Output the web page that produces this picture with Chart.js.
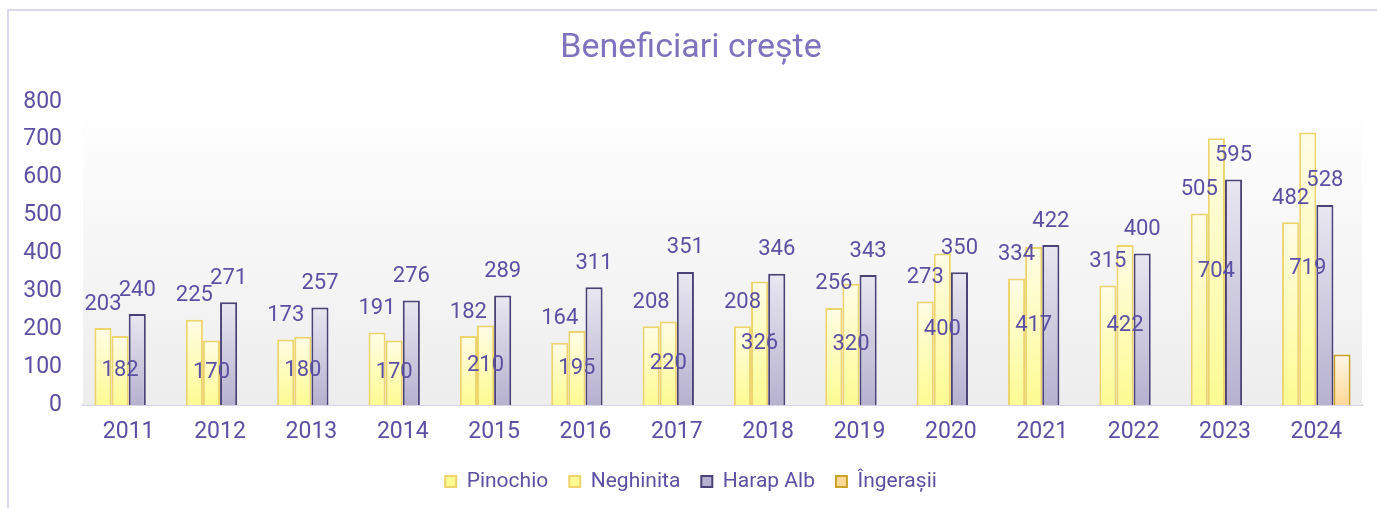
<!DOCTYPE html>
<html>
<head>
<meta charset="utf-8">
<script src="https://cdn.jsdelivr.net/npm/chart.js@4"></script>
<style>
  body { margin: 0; background: #fff; overflow: hidden; }
  #frame { position: absolute; left: 7px; top: 9px; width: 2000px; height: 1000px;
           border-left: 2px solid #dcd8ec; border-top: 2px solid #dcd8ec; }
  #wrap { position: absolute; left: 0; top: 0; width: 1377px; height: 508px; }
</style>
</head>
<body>
<div id="frame"></div>
<div id="wrap"><canvas id="chart"></canvas></div>
<script>
// Data
const years = ['2011', '2012', '2013', '2014', '2015', '2016', '2017', '2018', '2019', '2020', '2021', '2022', '2023', '2024'];
const pinochio = [203, 225, 173, 191, 182, 164, 208, 208, 256, 273, 334, 315, 505, 482];
const neghinita = [182, 170, 180, 170, 210, 195, 220, 326, 320, 400, 417, 422, 704, 719];
const harapAlb = [240, 271, 257, 276, 289, 311, 351, 346, 343, 350, 422, 400, 595, 528];
const ingerasii = [null, null, null, null, null, null, null, null, null, null, null, null, null, 133];
const yTicks = [0, 100, 200, 300, 400, 500, 600, 700, 800];

const textColor = '#5b50a3';
const fontFamily = 'Roboto, "Liberation Sans", sans-serif';

// vertical gradient for each bar, lighter at the top
function barFill(top, bottom) {
  return (ctx) => {
    const chart = ctx.chart;
    if (ctx.type !== 'data' || !chart.chartArea || ctx.raw == null) return bottom;
    const y = chart.scales.y;
    const g = chart.ctx.createLinearGradient(0, y.getPixelForValue(ctx.raw), 0, y.getPixelForValue(0));
    g.addColorStop(0, top);
    g.addColorStop(1, bottom);
    return g;
  };
}

// light grey backdrop behind the plot
const plotBackground = {
  id: 'plotBackground',
  beforeDatasetsDraw(chart) {
    const { ctx, chartArea: a } = chart;
    const g = ctx.createLinearGradient(0, a.top, 0, a.bottom);
    g.addColorStop(0, '#ffffff');
    g.addColorStop(1, '#ededed');
    ctx.save();
    ctx.fillStyle = g;
    ctx.fillRect(a.left, a.top, a.right - a.left, a.bottom - a.top);
    ctx.restore();
  }
};

// value labels: above the bar for Pinochio and Harap Alb, in the middle for Neghinita
const valueLabels = {
  id: 'valueLabels',
  afterDatasetsDraw(chart) {
    const { ctx } = chart;
    ctx.save();
    ctx.font = '22px ' + fontFamily;
    ctx.fillStyle = textColor;
    ctx.textAlign = 'center';
    ctx.textBaseline = 'middle';
    [0, 1, 2].forEach((di) => {
      const meta = chart.getDatasetMeta(di);
      const data = chart.data.datasets[di].data;
      meta.data.forEach((bar, i) => {
        if (data[i] == null) return;
        const y = di === 1 ? (bar.y + bar.base) / 2 : bar.y - 24;
        ctx.fillText(String(data[i]), bar.x, y);
      });
    });
    ctx.restore();
  }
};

new Chart(document.getElementById('chart').getContext('2d'), {
  type: 'bar',
  data: {
    labels: years,
    datasets: [
      { label: 'Pinochio', data: pinochio, backgroundColor: barFill('#fffde6', '#fdfb92'), borderColor: '#eed46c', borderWidth: 2 },
      { label: 'Neghinita', data: neghinita, backgroundColor: barFill('#fffde6', '#fdfb92'), borderColor: '#eed46c', borderWidth: 2 },
      { label: 'Harap Alb', data: harapAlb, backgroundColor: barFill('#e9e7f1', '#b6b1cf'), borderColor: '#4b4377', borderWidth: 2 },
      { label: 'Îngerașii', data: ingerasii, backgroundColor: barFill('#fff7e8', '#ffd897'), borderColor: '#c9a227', borderWidth: 2 }
    ]
  },
  options: {
    responsive: true,
    maintainAspectRatio: false,
    animation: false,
    layout: { padding: { left: 20, right: 15, top: 0, bottom: 6 } },
    datasets: { bar: { categoryPercentage: 0.75, barPercentage: 1.0 } },
    plugins: {
      title: {
        display: true,
        text: 'Beneficiari crește',
        color: '#7f73bf',
        font: { family: fontFamily, size: 34, weight: 'normal' },
        padding: { top: 28, bottom: 33 }
      },
      legend: {
        position: 'bottom',
        labels: {
          color: textColor,
          font: { family: fontFamily, size: 21 },
          boxWidth: 11,
          boxHeight: 11,
          padding: 21
        }
      },
      tooltip: { enabled: false }
    },
    scales: {
      x: {
        grid: { display: false, drawTicks: false },
        border: { display: true, color: '#d8d4ec', width: 2 },
        ticks: { color: textColor, font: { family: fontFamily, size: 23 }, padding: 13 },
        afterFit: (s) => { s.height = 45; }
      },
      y: {
        min: 0,
        max: 800,
        afterBuildTicks: (s) => { s.ticks = yTicks.map((v) => ({ value: v })); },
        grid: { display: false, drawTicks: false },
        border: { display: false },
        ticks: { color: textColor, font: { family: fontFamily, size: 23 }, padding: 21 },
        afterFit: (s) => { s.width = 63; }
      }
    }
  },
  plugins: [plotBackground, valueLabels]
});
</script>
</body>
</html>
